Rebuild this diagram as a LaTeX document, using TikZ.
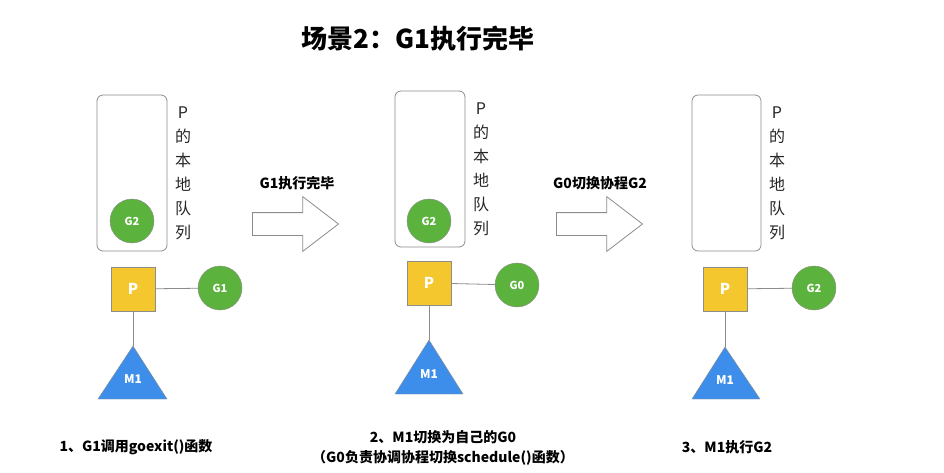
\documentclass[tikz,border=0pt]{standalone}
\usepackage{fontspec}
\setmainfont{Noto Sans CJK SC}
\usetikzlibrary{positioning,shapes.arrows}
\definecolor{pgold}{HTML}{F4C72E}
\definecolor{ggreen}{HTML}{5BB33D}
\definecolor{mblue}{HTML}{3D8EEA}
\definecolor{edge}{HTML}{8C8C8C}

\begin{document}
\begin{tikzpicture}[x=1pt, y=-1pt, font=\bfseries,
    queue/.style={draw=edge, rounded corners=6pt, line width=0.8pt},
    qtext/.style={font=\mdseries\fontsize{16}{24}\selectfont, align=center, text=black!85},
    gnode/.style={circle, draw=edge, fill=ggreen, minimum size=44pt, inner sep=0pt,
                  text=white, font=\bfseries\fontsize{11}{12}\selectfont},
    pnode/.style={draw=edge, fill=pgold, minimum size=44pt, inner sep=0pt,
                  text=white, font=\bfseries\fontsize{15}{16}\selectfont},
    mlabel/.style={text=white, font=\bfseries\fontsize{12}{13}\selectfont},
    link/.style={draw=edge, line width=0.8pt},
    bigarrow/.style={single arrow, draw=edge, fill=white, line width=0.8pt,
                     minimum height=86pt, inner xsep=0pt, inner ysep=11pt,
                     single arrow head extend=16pt, single arrow tip angle=75},
    alabel/.style={font=\bfseries\fontsize{14}{16}\selectfont},
    note/.style={font=\bfseries\fontsize{14}{20}\selectfont, align=center}]
  \useasboundingbox (0,0) rectangle (944,472);

  % title
  \node[font=\bfseries\fontsize{26}{28}\selectfont] (title) at (418,39) {场景2：G1执行完毕};

  % panel 1
  \draw[queue] (97,95) rectangle (167,251);
  \node[qtext] (q1) at (183,173) {P\\的\\本\\地\\队\\列};
  \node[gnode] (q1g2) at (132,221) {G2};
  \node[pnode] (p1) at (133,289) {P};
  \node[gnode] (g1) at (220,288) {G1};
  \draw[link] (p1) -- (g1);
  \coordinate (t1) at (133,346);
  \draw[draw=edge, fill=mblue] (t1) -- (167,399) -- (98,399) -- cycle;
  \node[mlabel] (m1a) at (133,379) {M1};
  \draw[link] (p1) -- (t1);
  \node[note] (n1) at (136,447) {1、G1调用goexit()函数};

  % arrow 1
  \node[bigarrow] (a1) at (288,224) {};
  \node[alabel] (a1l) at (297,183) {G1执行完毕};

  % panel 2
  \draw[queue] (395,91) rectangle (465,247);
  \node[qtext] (q2) at (481,169) {P\\的\\本\\地\\队\\列};
  \node[gnode] (q2g2) at (429,221) {G2};
  \node[pnode] (p2) at (429,283) {P};
  \node[gnode] (g0) at (517,285) {G0};
  \draw[link] (p2) -- (g0);
  \coordinate (t2) at (429,340);
  \draw[draw=edge, fill=mblue] (t2) -- (463,394) -- (395,394) -- cycle;
  \node[mlabel] (m1b) at (429,374) {M1};
  \draw[link] (p2) -- (t2);
  \node[note] (n2) at (443,448) {2、M1切换为自己的G0\\（G0负责协调协程切换schedule()函数）};

  % arrow 2
  \node[bigarrow] (a2) at (592,224) {};
  \node[alabel] (a2l) at (600,183) {G0切换协程G2};

  % panel 3
  \draw[queue] (692,95) rectangle (761,251);
  \node[qtext] (q3) at (777,173) {P\\的\\本\\地\\队\\列};
  \node[pnode] (p3) at (725,289) {P};
  \node[gnode] (g2) at (814,288) {G2};
  \draw[link] (p3) -- (g2);
  \coordinate (t3) at (725,347);
  \draw[draw=edge, fill=mblue] (t3) -- (760,399) -- (692,399) -- cycle;
  \node[mlabel] (m1c) at (725,380) {M1};
  \draw[link] (p3) -- (t3);
  \node[note] (n3) at (727,447) {3、M1执行G2};
\end{tikzpicture}
\end{document}
